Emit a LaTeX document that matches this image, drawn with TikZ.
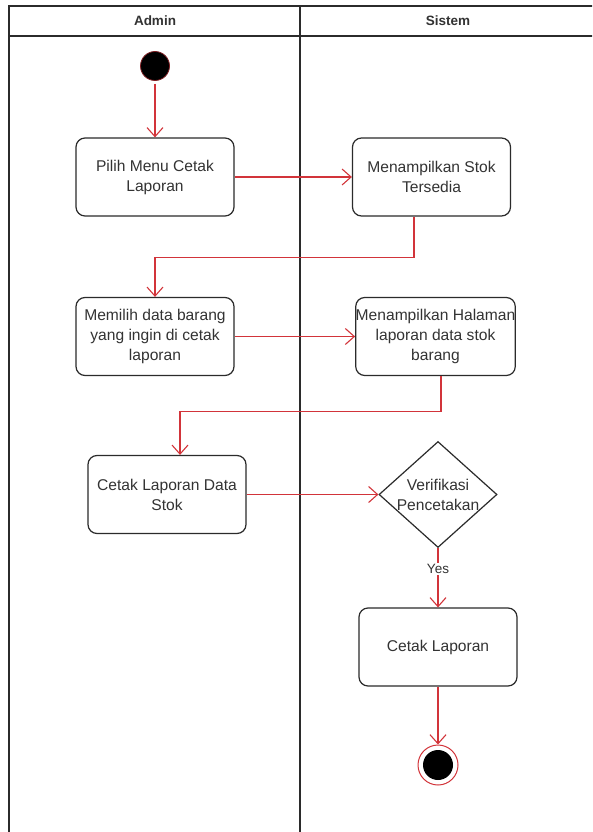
\documentclass[tikz,border=0pt]{standalone}
\usepackage{fontspec}
\setmainfont{Liberation Sans}
\usetikzlibrary{arrows.meta,shapes.geometric}
\definecolor{flow}{HTML}{D2343A}
\definecolor{linec}{HTML}{2B2B2B}
\definecolor{textc}{HTML}{333333}
\begin{document}
\begin{tikzpicture}[x=1pt,y=-1pt,
  act/.style={draw=linec, line width=1.2pt, rounded corners=9pt,
    minimum width=158pt, minimum height=78pt, align=center, text=textc,
    font=\fontsize{15.6}{20}\selectfont, inner sep=0pt},
  flowline/.style={draw=flow, line width=1.1pt, -{Straight Barb[length=9pt,width=16pt]}},
  lane/.style={draw=linec, line width=1.4pt},
  head/.style={text=textc, font=\bfseries\fontsize{13.5}{16}\selectfont},
  decision/.style={diamond, draw=linec, line width=1.2pt, minimum width=118pt,
    minimum height=106pt, inner sep=0pt}
]
\useasboundingbox (0,0) rectangle (592,832);
\fill[white] (0,0) rectangle (592,832);
% swimlanes
\begin{scope}
\clip (0,0) rectangle (592,832);
\draw[lane] (9,6) rectangle (610,36);
\draw[lane] (9,36) -- (9,850);
\draw[lane] (300,6) -- (300,850);
\end{scope}
\node[head] (hA) at (155,21) {Admin};
\node[head] (hS) at (448,21) {Sistem};

% start
\node[circle, fill=black, draw=flow!60!black, line width=0.8pt, minimum size=29pt, inner sep=0pt] (s) at (155,66) {};

% activities
\node[act] (b1) at (155,177) {Pilih Menu Cetak\\Laporan};
\node[act] (b2) at (431.5,177) {Menampilkan Stok\\Tersedia};
\node[act] (b3) at (155,336.5) {Memilih data barang\\yang ingin di cetak\\laporan};
\node[act] (b4) at (435.5,336.5) {Menampilkan Halaman\\laporan data stok\\barang};
\node[act] (b5) at (167,494.5) {Cetak Laporan Data\\Stok};
\node[decision] (v) at (438,494.5) {};
\node[text=textc, font=\fontsize{15.6}{20}\selectfont, align=center, inner sep=0pt] (vt) at (v.center) {Verifikasi\\Pencetakan};
\node[act] (b6) at (438,647) {Cetak Laporan};

% end
\node[circle, draw=flow, line width=1pt, fill=white, minimum size=40pt, inner sep=0pt] (e) at (438,765) {};
\node[circle, fill=black, minimum size=30pt, inner sep=0pt] (ei) at (e.center) {};

% flows
\draw[flowline] ([yshift=-3pt]s.south) -- (b1.north);
\draw[flowline] (b1.east) -- (b2.west);
\draw[flowline] ([xshift=-17.5pt]b2.south) -- ++(0,41) -| (b3.north);
\draw[flowline] (b3.east) -- (b4.west);
\draw[flowline] ([xshift=5.5pt]b4.south) -- ++(0,35) -| ([xshift=13pt]b5.north);
\draw[flowline] (b5.east) -- (v.west);
\draw[flowline] (v.south) -- node[pos=0.35, fill=white, text=textc, font=\fontsize{13.5}{15}\selectfont, inner sep=1pt] (yes) {Yes} (b6.north);
\draw[flowline] (b6.south) -- (e.north);
\end{tikzpicture}
\end{document}
